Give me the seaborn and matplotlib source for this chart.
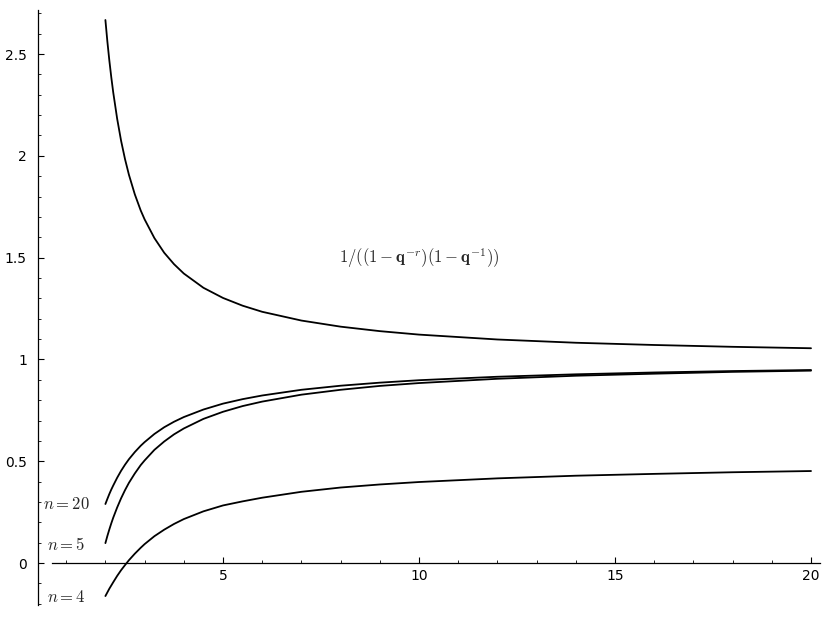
import matplotlib
matplotlib.use("Agg")
import matplotlib.pyplot as plt
import numpy as np
import pandas as pd
import seaborn as sns
from matplotlib.ticker import MultipleLocator, FuncFormatter

# values
q = [2, 2.05, 2.1, 2.15, 2.2, 2.3, 2.4, 2.5, 2.6, 2.75, 2.9, 3, 3.25, 3.5, 3.75,
     4, 4.5, 5, 5.5, 6, 7, 8, 9, 10, 12, 14, 16, 18, 20]
upper = [2.667, 2.562, 2.469, 2.386, 2.311, 2.182, 2.074, 1.984, 1.907, 1.811,
         1.732, 1.688, 1.596, 1.524, 1.468, 1.422, 1.352, 1.302, 1.264, 1.234,
         1.191, 1.161, 1.139, 1.122, 1.098, 1.082, 1.071, 1.062, 1.055]
n20 = [0.290, 0.315, 0.339, 0.361, 0.381, 0.419, 0.453, 0.483, 0.510, 0.545,
       0.576, 0.594, 0.634, 0.667, 0.694, 0.717, 0.754, 0.783, 0.805, 0.823,
       0.851, 0.871, 0.886, 0.898, 0.915, 0.927, 0.936, 0.943, 0.948]
n5 = [0.098, 0.133, 0.165, 0.195, 0.223, 0.273, 0.318, 0.358, 0.394, 0.440,
      0.481, 0.504, 0.556, 0.597, 0.632, 0.661, 0.708, 0.743, 0.771, 0.793,
      0.827, 0.851, 0.870, 0.884, 0.905, 0.920, 0.930, 0.939, 0.945]
n4 = [-0.162, -0.144, -0.126, -0.110, -0.094, -0.063, -0.035, -0.010, 0.014, 0.046,
      0.075, 0.093, 0.132, 0.164, 0.192, 0.216, 0.254, 0.283, 0.303, 0.321,
      0.350, 0.371, 0.386, 0.398, 0.416, 0.429, 0.438, 0.446, 0.452]

curve_labels = ["$n=20$", "$n=5$", "$n=4$"]
formula = r"$1/((1-\mathbf{q}^{-r})(1-\mathbf{q}^{-1}))$"

df = pd.DataFrame({"q": q, "upper": upper, "n20": n20, "n5": n5, "n4": n4})

sns.set_theme(style="white")
plt.rcParams["mathtext.fontset"] = "cm"

fig = plt.figure(figsize=(8.3, 6.19), dpi=100)
ax = fig.add_axes([0.0458, 0.0226, 0.9422, 0.9612])

for col in ["upper", "n20", "n5", "n4"]:
    sns.lineplot(data=df, x="q", y=col, ax=ax, color="black", linewidth=1.3,
                 estimator=None, sort=False)

# labels next to the curve starts
for lab, col, dy in zip(curve_labels, ["n20", "n5", "n4"], [0, -0.01, -0.005]):
    ax.text(1.0, df[col].iloc[0] + dy, lab, ha="center", va="center", fontsize=12)
ax.text(10, 1.5, formula, ha="center", va="center", fontsize=12)

ax.set_xlim(0.281, 20.23)
ax.set_ylim(-0.206, 2.716)
ax.set_xlabel("")
ax.set_ylabel("")

ax.spines["top"].set_visible(False)
ax.spines["right"].set_visible(False)
ax.spines["bottom"].set_position(("data", 0))
ax.spines["bottom"].set_bounds(0.638, 20.23)
for s in ["left", "bottom"]:
    ax.spines[s].set_color("black")
    ax.spines[s].set_linewidth(0.9)

ax.xaxis.set_major_locator(MultipleLocator(5))
ax.xaxis.set_minor_locator(MultipleLocator(1))
ax.yaxis.set_major_locator(MultipleLocator(0.5))
ax.yaxis.set_minor_locator(MultipleLocator(0.1))
ax.yaxis.set_major_formatter(FuncFormatter(lambda v, p: "%g" % round(v, 3)))
ax.xaxis.set_major_formatter(FuncFormatter(lambda v, p: "%g" % v))

ax.tick_params(which="major", direction="in", length=4, width=0.8, color="black",
               labelsize=10, labelcolor="black", bottom=True, left=True)
ax.tick_params(which="minor", direction="in", length=2, width=0.6, color="black",
               bottom=True, left=True)
ax.tick_params(axis="x", which="major", pad=4)
ax.tick_params(axis="y", which="major", pad=8)

fig.savefig("out.png", dpi=100)
